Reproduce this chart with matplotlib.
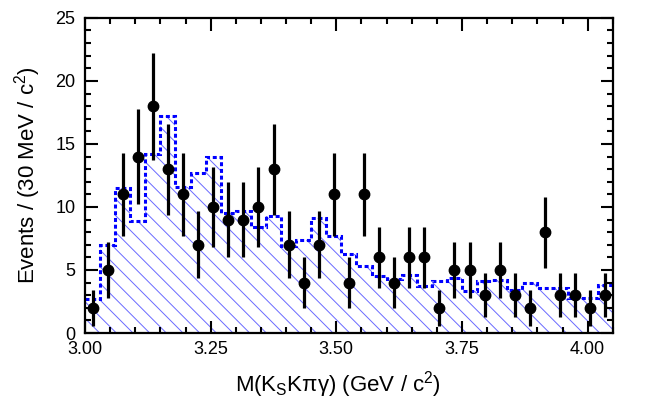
import numpy as np
import matplotlib
matplotlib.use("Agg")
import matplotlib.pyplot as plt
from matplotlib.ticker import MultipleLocator

# bin edges of the 30 MeV histogram, GeV
x_lo, x_hi, n_bins = 3.00, 4.05, 35

# observed events per bin
counts = [2, 5, 11, 14, 18, 13, 11, 7, 10, 9, 9, 10, 13, 7, 4, 7, 11, 4,
          11, 6, 4, 6, 6, 2, 5, 5, 3, 5, 3, 2, 8, 3, 3, 2, 3]

# expectation (dashed hatched histogram)
mc = [2.7, 7.0, 11.5, 8.9, 14.2, 17.2, 11.6, 12.7, 14.0, 9.5, 9.7, 8.4,
      9.3, 6.9, 7.4, 9.1, 7.7, 6.3, 5.3, 4.5, 4.3, 4.6, 3.7, 4.15, 4.4,
      3.3, 4.1, 4.2, 3.4, 4.0, 3.6, 3.6, 2.8, 2.8, 3.8]

x_ticks = [3.00, 3.25, 3.50, 3.75, 4.00]
y_ticks = [0, 5, 10, 15, 20, 25]

plt.rcParams['font.family'] = ['Liberation Sans', 'DejaVu Sans']
plt.rcParams['mathtext.fontset'] = 'custom'
plt.rcParams['mathtext.rm'] = 'Liberation Sans'
plt.rcParams['mathtext.it'] = 'Liberation Sans:italic'
plt.rcParams['hatch.linewidth'] = 0.7

edges = np.linspace(x_lo, x_hi, n_bins + 1)
centers = 0.5 * (edges[:-1] + edges[1:])
counts = np.array(counts)
mc = np.array(mc)

fig = plt.figure(figsize=(6.54, 4.16), dpi=100)
ax = fig.add_axes([0.130, 0.1995, 0.807, 0.7575])

# hatched area under the expectation
ax.stairs(mc, edges, fill=True, baseline=0, facecolor='none',
          edgecolor='#6a6aff', hatch='\\\\', linewidth=0)
# dashed outline
ax.stairs(mc, edges, baseline=None, color='#0000ff', linewidth=2.2,
          linestyle=(0, (1.3, 0.9)))

ax.errorbar(centers, counts, yerr=np.sqrt(counts), fmt='o', color='black',
            markersize=7.5, elinewidth=2.3, capsize=0, zorder=5)

ax.set_xlim(x_lo, x_hi)
ax.set_ylim(0, 25)
ax.set_xticks(x_ticks)
ax.set_xticklabels([f"{v:.2f}" for v in x_ticks])
ax.set_yticks(y_ticks)
ax.xaxis.set_minor_locator(MultipleLocator(0.05))
ax.yaxis.set_minor_locator(MultipleLocator(1))
ax.tick_params(which='both', direction='in', top=True, right=True,
               width=1.5, labelsize=13)
ax.tick_params(which='major', length=9, pad=6)
ax.tick_params(which='minor', length=4.5)
ax.tick_params(axis='y', which='major', pad=7)
for s in ax.spines.values():
    s.set_linewidth(1.6)

ax.set_xlabel(r'M(K$_\mathrm{S}$Kπγ) (GeV / c$^2$)', fontsize=16, labelpad=3)
ax.xaxis.set_label_coords(0.48, -0.115)
ax.set_ylabel(r'Events / (30 MeV / c$^2$)', fontsize=16, labelpad=9)

fig.savefig('out.png', dpi=100)
